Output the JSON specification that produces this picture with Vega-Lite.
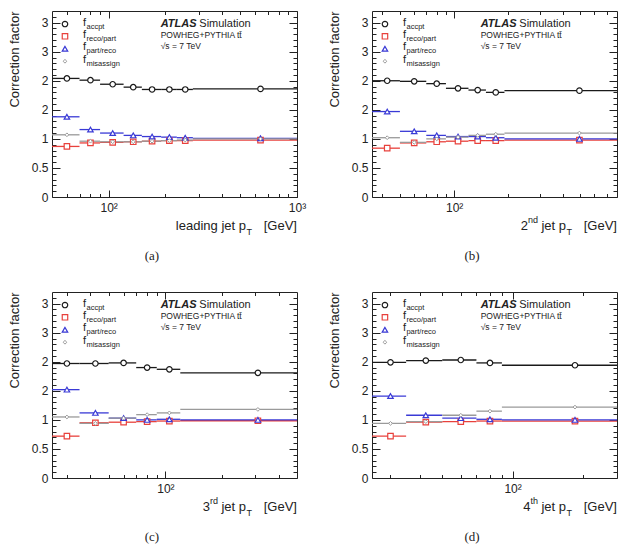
{
  "$schema": "https://vega.github.io/schema/vega-lite/v6.json",
  "padding": {"left": 7, "top": 10, "right": 2, "bottom": 2},
  "bounds": "flush",
  "columns": 2,
  "spacing": {"row": 95, "column": 75},
  "config": {
    "view": {"stroke": "#222", "strokeWidth": 1},
    "axis": {"domain": false, "tickColor": "#222", "labelColor": "#222", "titleColor": "#222", "labelFont": "Liberation Sans", "titleFont": "Liberation Sans", "grid": false, "tickWidth": 1},
    "text": {"font": "Liberation Sans", "color": "#222"}
  },
  "datasets": {
    "pts": [
      {"p":"a","s":"accpt","lo":50,"hi":70,"x":60,"v":2.04},
      {"p":"a","s":"accpt","lo":70,"hi":90,"x":80,"v":2.01},
      {"p":"a","s":"accpt","lo":90,"hi":120,"x":105,"v":1.94},
      {"p":"a","s":"accpt","lo":120,"hi":150,"x":135,"v":1.89},
      {"p":"a","s":"accpt","lo":150,"hi":190,"x":170,"v":1.85},
      {"p":"a","s":"accpt","lo":190,"hi":230,"x":210,"v":1.85},
      {"p":"a","s":"accpt","lo":230,"hi":280,"x":255,"v":1.85},
      {"p":"a","s":"accpt","lo":280,"hi":1000,"x":640,"v":1.86},
      {"p":"a","s":"recopart","lo":50,"hi":70,"x":60,"v":0.87},
      {"p":"a","s":"recopart","lo":70,"hi":90,"x":80,"v":0.93},
      {"p":"a","s":"recopart","lo":90,"hi":120,"x":105,"v":0.94},
      {"p":"a","s":"recopart","lo":120,"hi":150,"x":135,"v":0.95},
      {"p":"a","s":"recopart","lo":150,"hi":190,"x":170,"v":0.96},
      {"p":"a","s":"recopart","lo":190,"hi":230,"x":210,"v":0.97},
      {"p":"a","s":"recopart","lo":230,"hi":280,"x":255,"v":0.97},
      {"p":"a","s":"recopart","lo":280,"hi":1000,"x":640,"v":0.98},
      {"p":"a","s":"partreco","lo":50,"hi":70,"x":60,"v":1.38},
      {"p":"a","s":"partreco","lo":70,"hi":90,"x":80,"v":1.16},
      {"p":"a","s":"partreco","lo":90,"hi":120,"x":105,"v":1.10},
      {"p":"a","s":"partreco","lo":120,"hi":150,"x":135,"v":1.06},
      {"p":"a","s":"partreco","lo":150,"hi":190,"x":170,"v":1.04},
      {"p":"a","s":"partreco","lo":190,"hi":230,"x":210,"v":1.03},
      {"p":"a","s":"partreco","lo":230,"hi":280,"x":255,"v":1.02},
      {"p":"a","s":"partreco","lo":280,"hi":1000,"x":640,"v":1.01},
      {"p":"a","s":"misassign","lo":50,"hi":70,"x":60,"v":1.07},
      {"p":"a","s":"misassign","lo":70,"hi":90,"x":80,"v":0.96},
      {"p":"a","s":"misassign","lo":90,"hi":120,"x":105,"v":0.95},
      {"p":"a","s":"misassign","lo":120,"hi":150,"x":135,"v":0.95},
      {"p":"a","s":"misassign","lo":150,"hi":190,"x":170,"v":0.96},
      {"p":"a","s":"misassign","lo":190,"hi":230,"x":210,"v":0.97},
      {"p":"a","s":"misassign","lo":230,"hi":280,"x":255,"v":0.98},
      {"p":"a","s":"misassign","lo":280,"hi":1000,"x":640,"v":1.00},
      {"p":"b","s":"accpt","lo":35,"hi":50,"x":42.5,"v":2.00},
      {"p":"b","s":"accpt","lo":50,"hi":70,"x":60,"v":1.99},
      {"p":"b","s":"accpt","lo":70,"hi":90,"x":80,"v":1.95},
      {"p":"b","s":"accpt","lo":90,"hi":120,"x":105,"v":1.87},
      {"p":"b","s":"accpt","lo":120,"hi":150,"x":135,"v":1.84},
      {"p":"b","s":"accpt","lo":150,"hi":190,"x":170,"v":1.80},
      {"p":"b","s":"accpt","lo":190,"hi":800,"x":495,"v":1.83},
      {"p":"b","s":"recopart","lo":35,"hi":50,"x":42.5,"v":0.84},
      {"p":"b","s":"recopart","lo":50,"hi":70,"x":60,"v":0.93},
      {"p":"b","s":"recopart","lo":70,"hi":90,"x":80,"v":0.95},
      {"p":"b","s":"recopart","lo":90,"hi":120,"x":105,"v":0.96},
      {"p":"b","s":"recopart","lo":120,"hi":150,"x":135,"v":0.97},
      {"p":"b","s":"recopart","lo":150,"hi":190,"x":170,"v":0.97},
      {"p":"b","s":"recopart","lo":190,"hi":800,"x":495,"v":0.98},
      {"p":"b","s":"partreco","lo":35,"hi":50,"x":42.5,"v":1.47},
      {"p":"b","s":"partreco","lo":50,"hi":70,"x":60,"v":1.13},
      {"p":"b","s":"partreco","lo":70,"hi":90,"x":80,"v":1.06},
      {"p":"b","s":"partreco","lo":90,"hi":120,"x":105,"v":1.04},
      {"p":"b","s":"partreco","lo":120,"hi":150,"x":135,"v":1.04},
      {"p":"b","s":"partreco","lo":150,"hi":190,"x":170,"v":1.02},
      {"p":"b","s":"partreco","lo":190,"hi":800,"x":495,"v":1.00},
      {"p":"b","s":"misassign","lo":35,"hi":50,"x":42.5,"v":1.02},
      {"p":"b","s":"misassign","lo":50,"hi":70,"x":60,"v":0.94},
      {"p":"b","s":"misassign","lo":70,"hi":90,"x":80,"v":1.00},
      {"p":"b","s":"misassign","lo":90,"hi":120,"x":105,"v":1.03},
      {"p":"b","s":"misassign","lo":120,"hi":150,"x":135,"v":1.06},
      {"p":"b","s":"misassign","lo":150,"hi":190,"x":170,"v":1.08},
      {"p":"b","s":"misassign","lo":190,"hi":800,"x":495,"v":1.10},
      {"p":"c","s":"accpt","lo":25,"hi":35,"x":30,"v":1.97},
      {"p":"c","s":"accpt","lo":35,"hi":50,"x":42.5,"v":1.97},
      {"p":"c","s":"accpt","lo":50,"hi":70,"x":60,"v":1.98},
      {"p":"c","s":"accpt","lo":70,"hi":90,"x":80,"v":1.90},
      {"p":"c","s":"accpt","lo":90,"hi":120,"x":105,"v":1.87},
      {"p":"c","s":"accpt","lo":120,"hi":500,"x":310,"v":1.81},
      {"p":"c","s":"recopart","lo":25,"hi":35,"x":30,"v":0.72},
      {"p":"c","s":"recopart","lo":35,"hi":50,"x":42.5,"v":0.95},
      {"p":"c","s":"recopart","lo":50,"hi":70,"x":60,"v":0.96},
      {"p":"c","s":"recopart","lo":70,"hi":90,"x":80,"v":0.97},
      {"p":"c","s":"recopart","lo":90,"hi":120,"x":105,"v":0.98},
      {"p":"c","s":"recopart","lo":120,"hi":500,"x":310,"v":0.985},
      {"p":"c","s":"partreco","lo":25,"hi":35,"x":30,"v":1.52},
      {"p":"c","s":"partreco","lo":35,"hi":50,"x":42.5,"v":1.12},
      {"p":"c","s":"partreco","lo":50,"hi":70,"x":60,"v":1.03},
      {"p":"c","s":"partreco","lo":70,"hi":90,"x":80,"v":1.00},
      {"p":"c","s":"partreco","lo":90,"hi":120,"x":105,"v":1.01},
      {"p":"c","s":"partreco","lo":120,"hi":500,"x":310,"v":1.00},
      {"p":"c","s":"misassign","lo":25,"hi":35,"x":30,"v":1.05},
      {"p":"c","s":"misassign","lo":35,"hi":50,"x":42.5,"v":0.94},
      {"p":"c","s":"misassign","lo":50,"hi":70,"x":60,"v":1.03},
      {"p":"c","s":"misassign","lo":70,"hi":90,"x":80,"v":1.09},
      {"p":"c","s":"misassign","lo":90,"hi":120,"x":105,"v":1.12},
      {"p":"c","s":"misassign","lo":120,"hi":500,"x":310,"v":1.18},
      {"p":"d","s":"accpt","lo":25,"hi":35,"x":30,"v":1.99},
      {"p":"d","s":"accpt","lo":35,"hi":50,"x":42.5,"v":2.02},
      {"p":"d","s":"accpt","lo":50,"hi":70,"x":60,"v":2.03},
      {"p":"d","s":"accpt","lo":70,"hi":90,"x":80,"v":1.98},
      {"p":"d","s":"accpt","lo":90,"hi":280,"x":185,"v":1.94},
      {"p":"d","s":"recopart","lo":25,"hi":35,"x":30,"v":0.72},
      {"p":"d","s":"recopart","lo":35,"hi":50,"x":42.5,"v":0.96},
      {"p":"d","s":"recopart","lo":50,"hi":70,"x":60,"v":0.97},
      {"p":"d","s":"recopart","lo":70,"hi":90,"x":80,"v":0.98},
      {"p":"d","s":"recopart","lo":90,"hi":280,"x":185,"v":0.98},
      {"p":"d","s":"partreco","lo":25,"hi":35,"x":30,"v":1.41},
      {"p":"d","s":"partreco","lo":35,"hi":50,"x":42.5,"v":1.08},
      {"p":"d","s":"partreco","lo":50,"hi":70,"x":60,"v":1.03},
      {"p":"d","s":"partreco","lo":70,"hi":90,"x":80,"v":1.01},
      {"p":"d","s":"partreco","lo":90,"hi":280,"x":185,"v":1.00},
      {"p":"d","s":"misassign","lo":25,"hi":35,"x":30,"v":0.94},
      {"p":"d","s":"misassign","lo":35,"hi":50,"x":42.5,"v":0.97},
      {"p":"d","s":"misassign","lo":50,"hi":70,"x":60,"v":1.08},
      {"p":"d","s":"misassign","lo":70,"hi":90,"x":80,"v":1.15},
      {"p":"d","s":"misassign","lo":90,"hi":280,"x":185,"v":1.22}
    ]
  },
  "concat": [
    {
      "width": 245, "height": 186,
      "resolve": {"axis": {"x": "independent", "y": "independent"}},
      "layer": [
        {"layer": [
          {"data": {"name": "pts"}, "transform": [{"filter": "datum.p==='a'"}],
           "mark": {"type": "rule", "strokeWidth": 1.3},
           "encoding": {
             "x": {"field": "lo", "type": "quantitative", "scale": {"type": "log", "domain": [50, 1000], "nice": false},
                   "axis": {"orient": "bottom", "values": [100, 1000], "labelExpr": "datum.value===100?'10²':'10³'", "title": null, "tickSize": -7, "labelPadding": 12, "labelFontSize": 12, "labelFlush": false, "labelOverlap": false}},
             "x2": {"field": "hi"},
             "y": {"field": "v", "type": "quantitative", "scale": {"domain": [0, 3.2], "nice": false, "zero": false},
                   "axis": {"orient": "left", "values": [0,1,2,3], "format": "~g", "title": "Correction factor", "titleFontSize": 13, "titleFontWeight": "normal", "titleAngle": -90, "titleX": -38, "titleY": 0, "titleAlign": "right", "titleBaseline": "middle", "tickSize": -8, "labelPadding": 12, "labelFontSize": 12, "labelFlush": false, "labelOverlap": false}},
             "stroke": {"field": "s", "type": "nominal", "scale": {"domain": ["accpt","recopart","partreco","misassign"], "range": ["#1a1a1a","#e8413c","#3a3ad6","#9a9a9a"]}, "legend": null}
           }},
          {"data": {"name": "pts"}, "transform": [{"filter": "datum.p==='a'&&datum.s!=='misassign'"}],
           "mark": {"type": "point", "filled": true, "fill": "white", "strokeWidth": 1.2, "size": 30, "opacity": 1},
           "encoding": {
             "x": {"field": "x", "type": "quantitative"},
             "y": {"field": "v", "type": "quantitative"},
             "stroke": {"field": "s", "type": "nominal", "legend": null},
             "shape": {"field": "s", "type": "nominal", "scale": {"domain": ["accpt","recopart","partreco","misassign"], "range": ["circle","square","triangle-up","diamond"]}, "legend": null}
           }},
          {"data": {"name": "pts"}, "transform": [{"filter": "datum.p==='a'&&datum.s==='misassign'"}],
           "mark": {"type": "point", "filled": true, "fill": "white", "strokeWidth": 1, "size": 14, "opacity": 1},
           "encoding": {
             "x": {"field": "x", "type": "quantitative"},
             "y": {"field": "v", "type": "quantitative"},
             "stroke": {"field": "s", "type": "nominal", "legend": null},
             "shape": {"field": "s", "type": "nominal", "legend": null}
           }},
          {"data": {"values": [{}]}, "mark": {"type": "point", "shape": "circle", "filled": true, "fill": "white", "stroke": "#1a1a1a", "strokeWidth": 1.2, "size": 30, "opacity": 1},
           "encoding": {"x": {"datum": 58.6, "type": "quantitative"}, "y": {"datum": 2.976, "type": "quantitative"}}},
          {"data": {"values": [{}]}, "mark": {"type": "point", "shape": "square", "filled": true, "fill": "white", "stroke": "#e8413c", "strokeWidth": 1.2, "size": 30, "opacity": 1},
           "encoding": {"x": {"datum": 58.6, "type": "quantitative"}, "y": {"datum": 2.765, "type": "quantitative"}}},
          {"data": {"values": [{}]}, "mark": {"type": "point", "shape": "triangle-up", "filled": true, "fill": "white", "stroke": "#3a3ad6", "strokeWidth": 1.2, "size": 30, "opacity": 1},
           "encoding": {"x": {"datum": 58.6, "type": "quantitative"}, "y": {"datum": 2.551, "type": "quantitative"}}},
          {"data": {"values": [{}]}, "mark": {"type": "point", "shape": "diamond", "filled": true, "fill": "white", "stroke": "#9a9a9a", "strokeWidth": 1, "size": 14, "opacity": 1},
           "encoding": {"x": {"datum": 58.6, "type": "quantitative"}, "y": {"datum": 2.335, "type": "quantitative"}}},
          {"data": {"values": [{}]}, "mark": {"type": "text", "text": ["f","f","f","f"], "fontSize": 11, "lineHeight": 12.4, "align": "left", "baseline": "middle"},
           "encoding": {"x": {"datum": 73.0, "type": "quantitative"}, "y": {"datum": 3.002, "type": "quantitative"}}},
          {"data": {"values": [{}]}, "mark": {"type": "text", "text": ["accpt","reco/part","part/reco","misassign"], "fontSize": 7.5, "lineHeight": 12.4, "align": "left", "baseline": "middle"},
           "encoding": {"x": {"datum": 76.2, "type": "quantitative"}, "y": {"datum": 2.933, "type": "quantitative"}}},
          {"data": {"values": [{}]}, "mark": {"type": "text", "text": "ATLAS", "fontSize": 11, "fontWeight": "bold", "fontStyle": "italic", "align": "left", "baseline": "middle"},
           "encoding": {"x": {"datum": 188.9, "type": "quantitative"}, "y": {"datum": 2.976, "type": "quantitative"}}},
          {"data": {"values": [{}]}, "mark": {"type": "text", "text": "Simulation", "fontSize": 11, "align": "left", "baseline": "middle"},
           "encoding": {"x": {"datum": 302.8, "type": "quantitative"}, "y": {"datum": 2.976, "type": "quantitative"}}},
          {"data": {"values": [{}]}, "mark": {"type": "text", "text": ["POWHEG+PYTHIA tt̄","√s = 7 TeV"], "fontSize": 8.5, "lineHeight": 10.5, "align": "left", "baseline": "middle"},
           "encoding": {"x": {"datum": 188.9, "type": "quantitative"}, "y": {"datum": 2.787, "type": "quantitative"}}},
          {"data": {"values": [{}]}, "mark": {"type": "text", "text": "leading jet p", "fontSize": 13, "align": "right", "baseline": "middle"},
           "encoding": {"x": {"datum": 536, "type": "quantitative"}, "y": {"datum": -0.499, "type": "quantitative"}}},
          {"data": {"values": [{}]}, "mark": {"type": "text", "text": "T", "fontSize": 9, "align": "center", "baseline": "middle"},
           "encoding": {"x": {"datum": 558, "type": "quantitative"}, "y": {"datum": -0.602, "type": "quantitative"}}},
          {"data": {"values": [{}]}, "mark": {"type": "text", "text": "[GeV]", "fontSize": 13, "align": "right", "baseline": "middle"},
           "encoding": {"x": {"datum": 1000, "type": "quantitative"}, "y": {"datum": -0.499, "type": "quantitative"}}},
          {"data": {"values": [{}]}, "mark": {"type": "text", "text": "(a)", "font": "Liberation Serif", "fontSize": 13, "align": "center", "baseline": "middle"},
           "encoding": {"x": {"datum": 169.8, "type": "quantitative"}, "y": {"datum": -1.015, "type": "quantitative"}}}
        ]},
        {"data": {"name": "pts"}, "transform": [{"filter": "datum.p==='a'"}],
         "mark": {"type": "point", "opacity": 0},
         "encoding": {
           "x": {"field": "x", "type": "quantitative", "axis": {"orient": "bottom", "values": [60,70,80,90,200,300,400,500,600,700,800,900], "labels": false, "title": null, "tickSize": -3.5}},
           "y": {"field": "v", "type": "quantitative", "axis": {"orient": "left", "values": [0.5,1.5,2.5], "format": "~g", "title": null, "tickSize": -8, "labelPadding": 12, "labelFontSize": 12, "labelFlush": false, "labelOverlap": false}}
         }},
        {"data": {"name": "pts"}, "transform": [{"filter": "datum.p==='a'"}],
         "mark": {"type": "point", "opacity": 0},
         "encoding": {
           "x": {"field": "x", "type": "quantitative", "axis": {"orient": "top", "values": [100, 1000], "labels": false, "title": null, "tickSize": -7}},
           "y": {"field": "v", "type": "quantitative", "axis": {"orient": "left", "values": [0.1,0.2,0.3,0.4,0.6,0.7,0.8,0.9,1.1,1.2,1.3,1.4,1.6,1.7,1.8,1.9,2.1,2.2,2.3,2.4,2.6,2.7,2.8,2.9,3.1], "labels": false, "title": null, "tickSize": -4}}
         }},
        {"data": {"name": "pts"}, "transform": [{"filter": "datum.p==='a'"}],
         "mark": {"type": "point", "opacity": 0},
         "encoding": {
           "x": {"field": "x", "type": "quantitative", "axis": {"orient": "top", "values": [60,70,80,90,200,300,400,500,600,700,800,900], "labels": false, "title": null, "tickSize": -3.5}},
           "y": {"field": "v", "type": "quantitative", "axis": {"orient": "right", "values": [0,0.5,1,1.5,2,2.5,3], "labels": false, "title": null, "tickSize": -8}}
         }},
        {"data": {"name": "pts"}, "transform": [{"filter": "datum.p==='a'"}],
         "mark": {"type": "point", "opacity": 0},
         "encoding": {
           "y": {"field": "v", "type": "quantitative", "axis": {"orient": "right", "values": [0.1,0.2,0.3,0.4,0.6,0.7,0.8,0.9,1.1,1.2,1.3,1.4,1.6,1.7,1.8,1.9,2.1,2.2,2.3,2.4,2.6,2.7,2.8,2.9,3.1], "labels": false, "title": null, "tickSize": -4}}
         }}
      ]
    },
    {
      "width": 245, "height": 186,
      "resolve": {"axis": {"x": "independent", "y": "independent"}},
      "layer": [
        {"layer": [
          {"data": {"name": "pts"}, "transform": [{"filter": "datum.p==='b'"}],
           "mark": {"type": "rule", "strokeWidth": 1.3},
           "encoding": {
             "x": {"field": "lo", "type": "quantitative", "scale": {"type": "log", "domain": [35, 800], "nice": false},
                   "axis": {"orient": "bottom", "values": [100], "labelExpr": "'10²'", "title": null, "tickSize": -7, "labelPadding": 12, "labelFontSize": 12, "labelFlush": false, "labelOverlap": false}},
             "x2": {"field": "hi"},
             "y": {"field": "v", "type": "quantitative", "scale": {"domain": [0, 3.2], "nice": false, "zero": false},
                   "axis": {"orient": "left", "values": [0,1,2,3], "format": "~g", "title": "Correction factor", "titleFontSize": 13, "titleFontWeight": "normal", "titleAngle": -90, "titleX": -38, "titleY": 0, "titleAlign": "right", "titleBaseline": "middle", "tickSize": -8, "labelPadding": 12, "labelFontSize": 12, "labelFlush": false, "labelOverlap": false}},
             "stroke": {"field": "s", "type": "nominal", "scale": {"domain": ["accpt","recopart","partreco","misassign"], "range": ["#1a1a1a","#e8413c","#3a3ad6","#9a9a9a"]}, "legend": null}
           }},
          {"data": {"name": "pts"}, "transform": [{"filter": "datum.p==='b'&&datum.s!=='misassign'"}],
           "mark": {"type": "point", "filled": true, "fill": "white", "strokeWidth": 1.2, "size": 30, "opacity": 1},
           "encoding": {
             "x": {"field": "x", "type": "quantitative"},
             "y": {"field": "v", "type": "quantitative"},
             "stroke": {"field": "s", "type": "nominal", "legend": null},
             "shape": {"field": "s", "type": "nominal", "scale": {"domain": ["accpt","recopart","partreco","misassign"], "range": ["circle","square","triangle-up","diamond"]}, "legend": null}
           }},
          {"data": {"name": "pts"}, "transform": [{"filter": "datum.p==='b'&&datum.s==='misassign'"}],
           "mark": {"type": "point", "filled": true, "fill": "white", "strokeWidth": 1, "size": 14, "opacity": 1},
           "encoding": {
             "x": {"field": "x", "type": "quantitative"},
             "y": {"field": "v", "type": "quantitative"},
             "stroke": {"field": "s", "type": "nominal", "legend": null},
             "shape": {"field": "s", "type": "nominal", "legend": null}
           }},
          {"data": {"values": [{}]}, "mark": {"type": "point", "shape": "circle", "filled": true, "fill": "white", "stroke": "#1a1a1a", "strokeWidth": 1.2, "size": 30, "opacity": 1},
           "encoding": {"x": {"datum": 41.3, "type": "quantitative"}, "y": {"datum": 2.976, "type": "quantitative"}}},
          {"data": {"values": [{}]}, "mark": {"type": "point", "shape": "square", "filled": true, "fill": "white", "stroke": "#e8413c", "strokeWidth": 1.2, "size": 30, "opacity": 1},
           "encoding": {"x": {"datum": 41.3, "type": "quantitative"}, "y": {"datum": 2.765, "type": "quantitative"}}},
          {"data": {"values": [{}]}, "mark": {"type": "point", "shape": "triangle-up", "filled": true, "fill": "white", "stroke": "#3a3ad6", "strokeWidth": 1.2, "size": 30, "opacity": 1},
           "encoding": {"x": {"datum": 41.3, "type": "quantitative"}, "y": {"datum": 2.551, "type": "quantitative"}}},
          {"data": {"values": [{}]}, "mark": {"type": "point", "shape": "diamond", "filled": true, "fill": "white", "stroke": "#9a9a9a", "strokeWidth": 1, "size": 14, "opacity": 1},
           "encoding": {"x": {"datum": 41.3, "type": "quantitative"}, "y": {"datum": 2.335, "type": "quantitative"}}},
          {"data": {"values": [{}]}, "mark": {"type": "text", "text": ["f","f","f","f"], "fontSize": 11, "lineHeight": 12.4, "align": "left", "baseline": "middle"},
           "encoding": {"x": {"datum": 52.0, "type": "quantitative"}, "y": {"datum": 3.002, "type": "quantitative"}}},
          {"data": {"values": [{}]}, "mark": {"type": "text", "text": ["accpt","reco/part","part/reco","misassign"], "fontSize": 7.5, "lineHeight": 12.4, "align": "left", "baseline": "middle"},
           "encoding": {"x": {"datum": 54.4, "type": "quantitative"}, "y": {"datum": 2.933, "type": "quantitative"}}},
          {"data": {"values": [{}]}, "mark": {"type": "text", "text": "ATLAS", "fontSize": 11, "fontWeight": "bold", "fontStyle": "italic", "align": "left", "baseline": "middle"},
           "encoding": {"x": {"datum": 140.3, "type": "quantitative"}, "y": {"datum": 2.976, "type": "quantitative"}}},
          {"data": {"values": [{}]}, "mark": {"type": "text", "text": "Simulation", "fontSize": 11, "align": "left", "baseline": "middle"},
           "encoding": {"x": {"datum": 229.7, "type": "quantitative"}, "y": {"datum": 2.976, "type": "quantitative"}}},
          {"data": {"values": [{}]}, "mark": {"type": "text", "text": ["POWHEG+PYTHIA tt̄","√s = 7 TeV"], "fontSize": 8.5, "lineHeight": 10.5, "align": "left", "baseline": "middle"},
           "encoding": {"x": {"datum": 140.3, "type": "quantitative"}, "y": {"datum": 2.787, "type": "quantitative"}}},
          {"data": {"values": [{}]}, "mark": {"type": "text", "text": "2", "fontSize": 13, "align": "right", "baseline": "middle"},
           "encoding": {"x": {"datum": 256.3, "type": "quantitative"}, "y": {"datum": -0.499, "type": "quantitative"}}},
          {"data": {"values": [{}]}, "mark": {"type": "text", "text": "nd", "fontSize": 9, "align": "right", "baseline": "middle"},
           "encoding": {"x": {"datum": 291.3, "type": "quantitative"}, "y": {"datum": -0.404, "type": "quantitative"}}},
          {"data": {"values": [{}]}, "mark": {"type": "text", "text": "jet p", "fontSize": 13, "align": "right", "baseline": "middle"},
           "encoding": {"x": {"datum": 417.1, "type": "quantitative"}, "y": {"datum": -0.499, "type": "quantitative"}}},
          {"data": {"values": [{}]}, "mark": {"type": "text", "text": "T", "fontSize": 9, "align": "center", "baseline": "middle"},
           "encoding": {"x": {"datum": 435.1, "type": "quantitative"}, "y": {"datum": -0.602, "type": "quantitative"}}},
          {"data": {"values": [{}]}, "mark": {"type": "text", "text": "[GeV]", "fontSize": 13, "align": "right", "baseline": "middle"},
           "encoding": {"x": {"datum": 800, "type": "quantitative"}, "y": {"datum": -0.499, "type": "quantitative"}}},
          {"data": {"values": [{}]}, "mark": {"type": "text", "text": "(b)", "font": "Liberation Serif", "fontSize": 13, "align": "center", "baseline": "middle"},
           "encoding": {"x": {"datum": 125.5, "type": "quantitative"}, "y": {"datum": -1.015, "type": "quantitative"}}}
        ]},
        {"data": {"name": "pts"}, "transform": [{"filter": "datum.p==='b'"}],
         "mark": {"type": "point", "opacity": 0},
         "encoding": {
           "x": {"field": "x", "type": "quantitative", "axis": {"orient": "bottom", "values": [40,50,60,70,80,90,200,300,400,500,600,700], "labels": false, "title": null, "tickSize": -3.5}},
           "y": {"field": "v", "type": "quantitative", "axis": {"orient": "left", "values": [0.5,1.5,2.5], "format": "~g", "title": null, "tickSize": -8, "labelPadding": 12, "labelFontSize": 12, "labelFlush": false, "labelOverlap": false}}
         }},
        {"data": {"name": "pts"}, "transform": [{"filter": "datum.p==='b'"}],
         "mark": {"type": "point", "opacity": 0},
         "encoding": {
           "x": {"field": "x", "type": "quantitative", "axis": {"orient": "top", "values": [100], "labels": false, "title": null, "tickSize": -7}},
           "y": {"field": "v", "type": "quantitative", "axis": {"orient": "left", "values": [0.1,0.2,0.3,0.4,0.6,0.7,0.8,0.9,1.1,1.2,1.3,1.4,1.6,1.7,1.8,1.9,2.1,2.2,2.3,2.4,2.6,2.7,2.8,2.9,3.1], "labels": false, "title": null, "tickSize": -4}}
         }},
        {"data": {"name": "pts"}, "transform": [{"filter": "datum.p==='b'"}],
         "mark": {"type": "point", "opacity": 0},
         "encoding": {
           "x": {"field": "x", "type": "quantitative", "axis": {"orient": "top", "values": [40,50,60,70,80,90,200,300,400,500,600,700], "labels": false, "title": null, "tickSize": -3.5}},
           "y": {"field": "v", "type": "quantitative", "axis": {"orient": "right", "values": [0,0.5,1,1.5,2,2.5,3], "labels": false, "title": null, "tickSize": -8}}
         }},
        {"data": {"name": "pts"}, "transform": [{"filter": "datum.p==='b'"}],
         "mark": {"type": "point", "opacity": 0},
         "encoding": {
           "y": {"field": "v", "type": "quantitative", "axis": {"orient": "right", "values": [0.1,0.2,0.3,0.4,0.6,0.7,0.8,0.9,1.1,1.2,1.3,1.4,1.6,1.7,1.8,1.9,2.1,2.2,2.3,2.4,2.6,2.7,2.8,2.9,3.1], "labels": false, "title": null, "tickSize": -4}}
         }}
      ]
    },
    {
      "width": 245, "height": 186,
      "resolve": {"axis": {"x": "independent", "y": "independent"}},
      "layer": [
        {"layer": [
          {"data": {"name": "pts"}, "transform": [{"filter": "datum.p==='c'"}],
           "mark": {"type": "rule", "strokeWidth": 1.3},
           "encoding": {
             "x": {"field": "lo", "type": "quantitative", "scale": {"type": "log", "domain": [25, 500], "nice": false},
                   "axis": {"orient": "bottom", "values": [100], "labelExpr": "'10²'", "title": null, "tickSize": -7, "labelPadding": 12, "labelFontSize": 12, "labelFlush": false, "labelOverlap": false}},
             "x2": {"field": "hi"},
             "y": {"field": "v", "type": "quantitative", "scale": {"domain": [0, 3.2], "nice": false, "zero": false},
                   "axis": {"orient": "left", "values": [0,1,2,3], "format": "~g", "title": "Correction factor", "titleFontSize": 13, "titleFontWeight": "normal", "titleAngle": -90, "titleX": -38, "titleY": 0, "titleAlign": "right", "titleBaseline": "middle", "tickSize": -8, "labelPadding": 12, "labelFontSize": 12, "labelFlush": false, "labelOverlap": false}},
             "stroke": {"field": "s", "type": "nominal", "scale": {"domain": ["accpt","recopart","partreco","misassign"], "range": ["#1a1a1a","#e8413c","#3a3ad6","#9a9a9a"]}, "legend": null}
           }},
          {"data": {"name": "pts"}, "transform": [{"filter": "datum.p==='c'&&datum.s!=='misassign'"}],
           "mark": {"type": "point", "filled": true, "fill": "white", "strokeWidth": 1.2, "size": 30, "opacity": 1},
           "encoding": {
             "x": {"field": "x", "type": "quantitative"},
             "y": {"field": "v", "type": "quantitative"},
             "stroke": {"field": "s", "type": "nominal", "legend": null},
             "shape": {"field": "s", "type": "nominal", "scale": {"domain": ["accpt","recopart","partreco","misassign"], "range": ["circle","square","triangle-up","diamond"]}, "legend": null}
           }},
          {"data": {"name": "pts"}, "transform": [{"filter": "datum.p==='c'&&datum.s==='misassign'"}],
           "mark": {"type": "point", "filled": true, "fill": "white", "strokeWidth": 1, "size": 14, "opacity": 1},
           "encoding": {
             "x": {"field": "x", "type": "quantitative"},
             "y": {"field": "v", "type": "quantitative"},
             "stroke": {"field": "s", "type": "nominal", "legend": null},
             "shape": {"field": "s", "type": "nominal", "legend": null}
           }},
          {"data": {"values": [{}]}, "mark": {"type": "point", "shape": "circle", "filled": true, "fill": "white", "stroke": "#1a1a1a", "strokeWidth": 1.2, "size": 30, "opacity": 1},
           "encoding": {"x": {"datum": 29.3, "type": "quantitative"}, "y": {"datum": 2.976, "type": "quantitative"}}},
          {"data": {"values": [{}]}, "mark": {"type": "point", "shape": "square", "filled": true, "fill": "white", "stroke": "#e8413c", "strokeWidth": 1.2, "size": 30, "opacity": 1},
           "encoding": {"x": {"datum": 29.3, "type": "quantitative"}, "y": {"datum": 2.765, "type": "quantitative"}}},
          {"data": {"values": [{}]}, "mark": {"type": "point", "shape": "triangle-up", "filled": true, "fill": "white", "stroke": "#3a3ad6", "strokeWidth": 1.2, "size": 30, "opacity": 1},
           "encoding": {"x": {"datum": 29.3, "type": "quantitative"}, "y": {"datum": 2.551, "type": "quantitative"}}},
          {"data": {"values": [{}]}, "mark": {"type": "point", "shape": "diamond", "filled": true, "fill": "white", "stroke": "#9a9a9a", "strokeWidth": 1, "size": 14, "opacity": 1},
           "encoding": {"x": {"datum": 29.3, "type": "quantitative"}, "y": {"datum": 2.335, "type": "quantitative"}}},
          {"data": {"values": [{}]}, "mark": {"type": "text", "text": ["f","f","f","f"], "fontSize": 11, "lineHeight": 12.4, "align": "left", "baseline": "middle"},
           "encoding": {"x": {"datum": 36.5, "type": "quantitative"}, "y": {"datum": 3.002, "type": "quantitative"}}},
          {"data": {"values": [{}]}, "mark": {"type": "text", "text": ["accpt","reco/part","part/reco","misassign"], "fontSize": 7.5, "lineHeight": 12.4, "align": "left", "baseline": "middle"},
           "encoding": {"x": {"datum": 38.1, "type": "quantitative"}, "y": {"datum": 2.933, "type": "quantitative"}}},
          {"data": {"values": [{}]}, "mark": {"type": "text", "text": "ATLAS", "fontSize": 11, "fontWeight": "bold", "fontStyle": "italic", "align": "left", "baseline": "middle"},
           "encoding": {"x": {"datum": 94.4, "type": "quantitative"}, "y": {"datum": 2.976, "type": "quantitative"}}},
          {"data": {"values": [{}]}, "mark": {"type": "text", "text": "Simulation", "fontSize": 11, "align": "left", "baseline": "middle"},
           "encoding": {"x": {"datum": 151.4, "type": "quantitative"}, "y": {"datum": 2.976, "type": "quantitative"}}},
          {"data": {"values": [{}]}, "mark": {"type": "text", "text": ["POWHEG+PYTHIA tt̄","√s = 7 TeV"], "fontSize": 8.5, "lineHeight": 10.5, "align": "left", "baseline": "middle"},
           "encoding": {"x": {"datum": 94.4, "type": "quantitative"}, "y": {"datum": 2.787, "type": "quantitative"}}},
          {"data": {"values": [{}]}, "mark": {"type": "text", "text": "3", "fontSize": 13, "align": "right", "baseline": "middle"},
           "encoding": {"x": {"datum": 172.4, "type": "quantitative"}, "y": {"datum": -0.499, "type": "quantitative"}}},
          {"data": {"values": [{}]}, "mark": {"type": "text", "text": "rd", "fontSize": 9, "align": "right", "baseline": "middle"},
           "encoding": {"x": {"datum": 190.1, "type": "quantitative"}, "y": {"datum": -0.404, "type": "quantitative"}}},
          {"data": {"values": [{}]}, "mark": {"type": "text", "text": "jet p", "fontSize": 13, "align": "right", "baseline": "middle"},
           "encoding": {"x": {"datum": 268, "type": "quantitative"}, "y": {"datum": -0.499, "type": "quantitative"}}},
          {"data": {"values": [{}]}, "mark": {"type": "text", "text": "T", "fontSize": 9, "align": "center", "baseline": "middle"},
           "encoding": {"x": {"datum": 279, "type": "quantitative"}, "y": {"datum": -0.602, "type": "quantitative"}}},
          {"data": {"values": [{}]}, "mark": {"type": "text", "text": "[GeV]", "fontSize": 13, "align": "right", "baseline": "middle"},
           "encoding": {"x": {"datum": 500, "type": "quantitative"}, "y": {"datum": -0.499, "type": "quantitative"}}},
          {"data": {"values": [{}]}, "mark": {"type": "text", "text": "(c)", "font": "Liberation Serif", "fontSize": 13, "align": "center", "baseline": "middle"},
           "encoding": {"x": {"datum": 84.9, "type": "quantitative"}, "y": {"datum": -1.015, "type": "quantitative"}}}
        ]},
        {"data": {"name": "pts"}, "transform": [{"filter": "datum.p==='c'"}],
         "mark": {"type": "point", "opacity": 0},
         "encoding": {
           "x": {"field": "x", "type": "quantitative", "axis": {"orient": "bottom", "values": [30,40,50,60,70,80,90,200,300,400], "labels": false, "title": null, "tickSize": -3.5}},
           "y": {"field": "v", "type": "quantitative", "axis": {"orient": "left", "values": [0.5,1.5,2.5], "format": "~g", "title": null, "tickSize": -8, "labelPadding": 12, "labelFontSize": 12, "labelFlush": false, "labelOverlap": false}}
         }},
        {"data": {"name": "pts"}, "transform": [{"filter": "datum.p==='c'"}],
         "mark": {"type": "point", "opacity": 0},
         "encoding": {
           "x": {"field": "x", "type": "quantitative", "axis": {"orient": "top", "values": [100], "labels": false, "title": null, "tickSize": -7}},
           "y": {"field": "v", "type": "quantitative", "axis": {"orient": "left", "values": [0.1,0.2,0.3,0.4,0.6,0.7,0.8,0.9,1.1,1.2,1.3,1.4,1.6,1.7,1.8,1.9,2.1,2.2,2.3,2.4,2.6,2.7,2.8,2.9,3.1], "labels": false, "title": null, "tickSize": -4}}
         }},
        {"data": {"name": "pts"}, "transform": [{"filter": "datum.p==='c'"}],
         "mark": {"type": "point", "opacity": 0},
         "encoding": {
           "x": {"field": "x", "type": "quantitative", "axis": {"orient": "top", "values": [30,40,50,60,70,80,90,200,300,400], "labels": false, "title": null, "tickSize": -3.5}},
           "y": {"field": "v", "type": "quantitative", "axis": {"orient": "right", "values": [0,0.5,1,1.5,2,2.5,3], "labels": false, "title": null, "tickSize": -8}}
         }},
        {"data": {"name": "pts"}, "transform": [{"filter": "datum.p==='c'"}],
         "mark": {"type": "point", "opacity": 0},
         "encoding": {
           "y": {"field": "v", "type": "quantitative", "axis": {"orient": "right", "values": [0.1,0.2,0.3,0.4,0.6,0.7,0.8,0.9,1.1,1.2,1.3,1.4,1.6,1.7,1.8,1.9,2.1,2.2,2.3,2.4,2.6,2.7,2.8,2.9,3.1], "labels": false, "title": null, "tickSize": -4}}
         }}
      ]
    },
    {
      "width": 245, "height": 186,
      "resolve": {"axis": {"x": "independent", "y": "independent"}},
      "layer": [
        {"layer": [
          {"data": {"name": "pts"}, "transform": [{"filter": "datum.p==='d'"}],
           "mark": {"type": "rule", "strokeWidth": 1.3},
           "encoding": {
             "x": {"field": "lo", "type": "quantitative", "scale": {"type": "log", "domain": [25, 280], "nice": false},
                   "axis": {"orient": "bottom", "values": [100], "labelExpr": "'10²'", "title": null, "tickSize": -7, "labelPadding": 12, "labelFontSize": 12, "labelFlush": false, "labelOverlap": false}},
             "x2": {"field": "hi"},
             "y": {"field": "v", "type": "quantitative", "scale": {"domain": [0, 3.2], "nice": false, "zero": false},
                   "axis": {"orient": "left", "values": [0,1,2,3], "format": "~g", "title": "Correction factor", "titleFontSize": 13, "titleFontWeight": "normal", "titleAngle": -90, "titleX": -38, "titleY": 0, "titleAlign": "right", "titleBaseline": "middle", "tickSize": -8, "labelPadding": 12, "labelFontSize": 12, "labelFlush": false, "labelOverlap": false}},
             "stroke": {"field": "s", "type": "nominal", "scale": {"domain": ["accpt","recopart","partreco","misassign"], "range": ["#1a1a1a","#e8413c","#3a3ad6","#9a9a9a"]}, "legend": null}
           }},
          {"data": {"name": "pts"}, "transform": [{"filter": "datum.p==='d'&&datum.s!=='misassign'"}],
           "mark": {"type": "point", "filled": true, "fill": "white", "strokeWidth": 1.2, "size": 30, "opacity": 1},
           "encoding": {
             "x": {"field": "x", "type": "quantitative"},
             "y": {"field": "v", "type": "quantitative"},
             "stroke": {"field": "s", "type": "nominal", "legend": null},
             "shape": {"field": "s", "type": "nominal", "scale": {"domain": ["accpt","recopart","partreco","misassign"], "range": ["circle","square","triangle-up","diamond"]}, "legend": null}
           }},
          {"data": {"name": "pts"}, "transform": [{"filter": "datum.p==='d'&&datum.s==='misassign'"}],
           "mark": {"type": "point", "filled": true, "fill": "white", "strokeWidth": 1, "size": 14, "opacity": 1},
           "encoding": {
             "x": {"field": "x", "type": "quantitative"},
             "y": {"field": "v", "type": "quantitative"},
             "stroke": {"field": "s", "type": "nominal", "legend": null},
             "shape": {"field": "s", "type": "nominal", "legend": null}
           }},
          {"data": {"values": [{}]}, "mark": {"type": "point", "shape": "circle", "filled": true, "fill": "white", "stroke": "#1a1a1a", "strokeWidth": 1.2, "size": 30, "opacity": 1},
           "encoding": {"x": {"datum": 28.4, "type": "quantitative"}, "y": {"datum": 2.976, "type": "quantitative"}}},
          {"data": {"values": [{}]}, "mark": {"type": "point", "shape": "square", "filled": true, "fill": "white", "stroke": "#e8413c", "strokeWidth": 1.2, "size": 30, "opacity": 1},
           "encoding": {"x": {"datum": 28.4, "type": "quantitative"}, "y": {"datum": 2.765, "type": "quantitative"}}},
          {"data": {"values": [{}]}, "mark": {"type": "point", "shape": "triangle-up", "filled": true, "fill": "white", "stroke": "#3a3ad6", "strokeWidth": 1.2, "size": 30, "opacity": 1},
           "encoding": {"x": {"datum": 28.4, "type": "quantitative"}, "y": {"datum": 2.551, "type": "quantitative"}}},
          {"data": {"values": [{}]}, "mark": {"type": "point", "shape": "diamond", "filled": true, "fill": "white", "stroke": "#9a9a9a", "strokeWidth": 1, "size": 14, "opacity": 1},
           "encoding": {"x": {"datum": 28.4, "type": "quantitative"}, "y": {"datum": 2.335, "type": "quantitative"}}},
          {"data": {"values": [{}]}, "mark": {"type": "text", "text": ["f","f","f","f"], "fontSize": 11, "lineHeight": 12.4, "align": "left", "baseline": "middle"},
           "encoding": {"x": {"datum": 33.9, "type": "quantitative"}, "y": {"datum": 3.002, "type": "quantitative"}}},
          {"data": {"values": [{}]}, "mark": {"type": "text", "text": ["accpt","reco/part","part/reco","misassign"], "fontSize": 7.5, "lineHeight": 12.4, "align": "left", "baseline": "middle"},
           "encoding": {"x": {"datum": 35.1, "type": "quantitative"}, "y": {"datum": 2.933, "type": "quantitative"}}},
          {"data": {"values": [{}]}, "mark": {"type": "text", "text": "ATLAS", "fontSize": 11, "fontWeight": "bold", "fontStyle": "italic", "align": "left", "baseline": "middle"},
           "encoding": {"x": {"datum": 73.0, "type": "quantitative"}, "y": {"datum": 2.976, "type": "quantitative"}}},
          {"data": {"values": [{}]}, "mark": {"type": "text", "text": "Simulation", "fontSize": 11, "align": "left", "baseline": "middle"},
           "encoding": {"x": {"datum": 106.8, "type": "quantitative"}, "y": {"datum": 2.976, "type": "quantitative"}}},
          {"data": {"values": [{}]}, "mark": {"type": "text", "text": ["POWHEG+PYTHIA tt̄","√s = 7 TeV"], "fontSize": 8.5, "lineHeight": 10.5, "align": "left", "baseline": "middle"},
           "encoding": {"x": {"datum": 73.0, "type": "quantitative"}, "y": {"datum": 2.787, "type": "quantitative"}}},
          {"data": {"values": [{}]}, "mark": {"type": "text", "text": "4", "fontSize": 13, "align": "right", "baseline": "middle"},
           "encoding": {"x": {"datum": 119.2, "type": "quantitative"}, "y": {"datum": -0.499, "type": "quantitative"}}},
          {"data": {"values": [{}]}, "mark": {"type": "text", "text": "th", "fontSize": 9, "align": "right", "baseline": "middle"},
           "encoding": {"x": {"datum": 128.4, "type": "quantitative"}, "y": {"datum": -0.404, "type": "quantitative"}}},
          {"data": {"values": [{}]}, "mark": {"type": "text", "text": "jet p", "fontSize": 13, "align": "right", "baseline": "middle"},
           "encoding": {"x": {"datum": 169.4, "type": "quantitative"}, "y": {"datum": -0.499, "type": "quantitative"}}},
          {"data": {"values": [{}]}, "mark": {"type": "text", "text": "T", "fontSize": 9, "align": "center", "baseline": "middle"},
           "encoding": {"x": {"datum": 175.0, "type": "quantitative"}, "y": {"datum": -0.602, "type": "quantitative"}}},
          {"data": {"values": [{}]}, "mark": {"type": "text", "text": "[GeV]", "fontSize": 13, "align": "right", "baseline": "middle"},
           "encoding": {"x": {"datum": 280, "type": "quantitative"}, "y": {"datum": -0.499, "type": "quantitative"}}},
          {"data": {"values": [{}]}, "mark": {"type": "text", "text": "(d)", "font": "Liberation Serif", "fontSize": 13, "align": "center", "baseline": "middle"},
           "encoding": {"x": {"datum": 67.0, "type": "quantitative"}, "y": {"datum": -1.015, "type": "quantitative"}}}
        ]},
        {"data": {"name": "pts"}, "transform": [{"filter": "datum.p==='d'"}],
         "mark": {"type": "point", "opacity": 0},
         "encoding": {
           "x": {"field": "x", "type": "quantitative", "axis": {"orient": "bottom", "values": [30,40,50,60,70,80,90,200], "labels": false, "title": null, "tickSize": -3.5}},
           "y": {"field": "v", "type": "quantitative", "axis": {"orient": "left", "values": [0.5,1.5,2.5], "format": "~g", "title": null, "tickSize": -8, "labelPadding": 12, "labelFontSize": 12, "labelFlush": false, "labelOverlap": false}}
         }},
        {"data": {"name": "pts"}, "transform": [{"filter": "datum.p==='d'"}],
         "mark": {"type": "point", "opacity": 0},
         "encoding": {
           "x": {"field": "x", "type": "quantitative", "axis": {"orient": "top", "values": [100], "labels": false, "title": null, "tickSize": -7}},
           "y": {"field": "v", "type": "quantitative", "axis": {"orient": "left", "values": [0.1,0.2,0.3,0.4,0.6,0.7,0.8,0.9,1.1,1.2,1.3,1.4,1.6,1.7,1.8,1.9,2.1,2.2,2.3,2.4,2.6,2.7,2.8,2.9,3.1], "labels": false, "title": null, "tickSize": -4}}
         }},
        {"data": {"name": "pts"}, "transform": [{"filter": "datum.p==='d'"}],
         "mark": {"type": "point", "opacity": 0},
         "encoding": {
           "x": {"field": "x", "type": "quantitative", "axis": {"orient": "top", "values": [30,40,50,60,70,80,90,200], "labels": false, "title": null, "tickSize": -3.5}},
           "y": {"field": "v", "type": "quantitative", "axis": {"orient": "right", "values": [0,0.5,1,1.5,2,2.5,3], "labels": false, "title": null, "tickSize": -8}}
         }},
        {"data": {"name": "pts"}, "transform": [{"filter": "datum.p==='d'"}],
         "mark": {"type": "point", "opacity": 0},
         "encoding": {
           "y": {"field": "v", "type": "quantitative", "axis": {"orient": "right", "values": [0.1,0.2,0.3,0.4,0.6,0.7,0.8,0.9,1.1,1.2,1.3,1.4,1.6,1.7,1.8,1.9,2.1,2.2,2.3,2.4,2.6,2.7,2.8,2.9,3.1], "labels": false, "title": null, "tickSize": -4}}
         }}
      ]
    }
  ]
}
